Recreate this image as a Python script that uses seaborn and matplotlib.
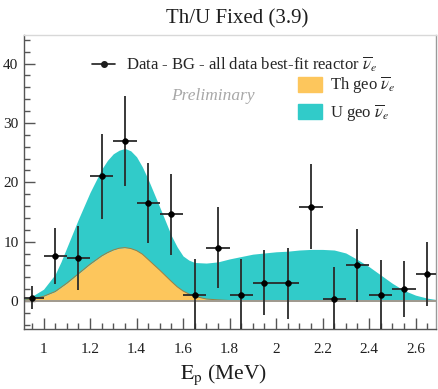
import matplotlib
matplotlib.use("Agg")
import matplotlib.pyplot as plt
import seaborn as sns
from matplotlib.patches import Patch
from matplotlib.lines import Line2D
from matplotlib.ticker import MultipleLocator

# Measured spectrum (data minus backgrounds) per 0.1 MeV bin
energy_bins = [0.95, 1.05, 1.15, 1.25, 1.35, 1.45, 1.55, 1.65, 1.75,
               1.85, 1.95, 2.05, 2.15, 2.25, 2.35, 2.45, 2.55, 2.65]
counts = [0.6, 7.6, 7.2, 21.0, 27.0, 16.5, 14.6, 1.1, 9.0,
          1.1, 3.1, 3.0, 15.9, 0.3, 6.0, 1.1, 2.1, 4.5]
count_err = [1.9, 4.7, 5.4, 7.1, 7.6, 6.8, 6.8, 6.0, 6.8,
             6.0, 5.5, 6.0, 7.2, 5.5, 6.1, 5.8, 4.7, 5.4]
bin_half_width = [0.05] * len(energy_bins)

# Fitted geo-neutrino spectra (stacked: Th below, Th+U on top)
model_energy = [0.90, 0.95, 1.00, 1.05, 1.075, 1.10, 1.15, 1.20, 1.25, 1.275,
                1.30, 1.325, 1.35, 1.375, 1.40, 1.425, 1.45, 1.50, 1.55, 1.575,
                1.60, 1.625, 1.65, 1.70, 1.75, 1.80, 1.85, 1.90, 1.95, 2.00,
                2.05, 2.10, 2.15, 2.20, 2.25, 2.30, 2.35, 2.40, 2.45, 2.50,
                2.55, 2.60, 2.65, 2.70]
th_model = [0.1, 0.3, 0.8, 1.6, 2.3, 3.0, 4.6, 6.2, 7.6, 8.15,
            8.6, 8.9, 9.0, 8.85, 8.5, 7.9, 7.0, 5.2, 3.3, 2.4,
            1.7, 1.2, 0.8, 0.35, 0.2, 0.1, 0.08, 0.06, 0.05, 0.04,
            0.03, 0.02, 0.01, 0.0, 0.0, 0.0, 0.0, 0.0, 0.0, 0.0,
            0.0, 0.0, 0.0, 0.0]
total_model = [0.2, 0.8, 2.0, 4.5, 6.6, 9.0, 13.8, 18.3, 22.2, 23.7,
               24.8, 25.4, 25.7, 25.3, 24.3, 22.6, 20.5, 15.8, 11.0, 9.1,
               7.6, 6.9, 6.5, 6.4, 6.6, 7.1, 7.5, 7.9, 8.1, 8.3,
               8.4, 8.6, 8.7, 8.7, 8.6, 8.1, 7.0, 5.8, 4.4, 3.0,
               1.8, 1.0, 0.5, 0.2]

x_ticks = [1.0, 1.2, 1.4, 1.6, 1.8, 2.0, 2.2, 2.4, 2.6]
x_tick_labels = ["1", "1.2", "1.4", "1.6", "1.8", "2", "2.2", "2.4", "2.6"]
y_ticks = [0, 10, 20, 30, 40]

sns.set_theme(style="ticks")
plt.rcParams["font.family"] = ["Liberation Serif", "DejaVu Serif"]
plt.rcParams["mathtext.fontset"] = "stix"

TH_COLOR = "#FDC65C"
U_COLOR = "#31CBC9"
INK = "#1e1e1e"

fig = plt.figure(figsize=(4.38, 3.89), dpi=100)
W, H = 438, 389
ax = fig.add_axes([24 / W, 1 - 329 / H, 412 / W, 294 / H])

# stacked model areas
ax.fill_between(model_energy, 0, th_model, color=TH_COLOR, lw=0, zorder=1)
ax.fill_between(model_energy, th_model, total_model, color=U_COLOR, lw=0, zorder=1)
sns.lineplot(x=model_energy, y=th_model, color="#a07d3c", lw=0.7, ax=ax, zorder=2)
ax.axhline(0, color="#a09a90", lw=1.4, zorder=2)

# data points with errors
ax.errorbar(energy_bins, counts, yerr=count_err, xerr=bin_half_width, fmt="none",
            ecolor="#2a2a2a", elinewidth=1.3, capsize=0, zorder=4)
sns.scatterplot(x=energy_bins, y=counts, color="black", edgecolor="black",
                s=18, ax=ax, zorder=5, legend=False)

ax.set_xlim(0.916, 2.688)
ax.set_ylim(-4.7, 44.8)
ax.set_xticks(x_ticks)
ax.set_xticklabels(x_tick_labels)
ax.set_yticks(y_ticks)
ax.xaxis.set_minor_locator(MultipleLocator(0.05))
ax.yaxis.set_minor_locator(MultipleLocator(2))
ax.tick_params(axis="both", which="both", direction="in", color="#555555",
               width=1.0, labelsize=11, labelcolor=INK)
ax.tick_params(axis="both", which="major", length=8)
ax.tick_params(axis="both", which="minor", length=4)
ax.tick_params(axis="x", which="both", pad=10, top=False)
ax.tick_params(axis="y", which="both", pad=4, right=False)
ax.set_xlabel("")
ax.set_ylabel("")

for side, col in {"left": "#555555", "bottom": "#555555",
                  "top": "#d8d8d8", "right": "#9a9a9a"}.items():
    ax.spines[side].set_visible(True)
    ax.spines[side].set_color(col)
    ax.spines[side].set_linewidth(1.0)

# legends
data_handle = Line2D([], [], color=INK, lw=1.2, marker="o", markersize=4)
leg1 = ax.legend([data_handle],
                 [r"Data - BG - all data best-fit reactor $\overline{\nu}_{e}$"],
                 loc="center left", bbox_to_anchor=(0.165, 0.901),
                 frameon=False, fontsize=12, handlelength=1.4,
                 handletextpad=0.65, borderaxespad=0, borderpad=0)
ax.add_artist(leg1)
ax.legend([Patch(color=TH_COLOR), Patch(color=U_COLOR)],
          [r"Th geo $\overline{\nu}_{e}$", r"U geo $\overline{\nu}_{e}$"],
          loc="upper left", bbox_to_anchor=(0.665, 0.865),
          frameon=False, fontsize=12, handlelength=1.45, handleheight=1.0,
          handletextpad=0.5, labelspacing=0.4, borderaxespad=0, borderpad=0)

ax.text(0.459, 0.793, "Preliminary", transform=ax.transAxes, ha="center",
        va="center", fontsize=12.5, style="italic", color="#a8a8a8")

fig.text(237 / W, 1 - 19 / H, "Th/U Fixed (3.9)", ha="center", va="center",
         fontsize=15, color=INK)
fig.text(223 / W, 1 - 375 / H, r"$\mathrm{E}_{\mathrm{p}}$ (MeV)", ha="center",
         va="center", fontsize=15.5, color=INK)

fig.savefig("out.png", dpi=100)
